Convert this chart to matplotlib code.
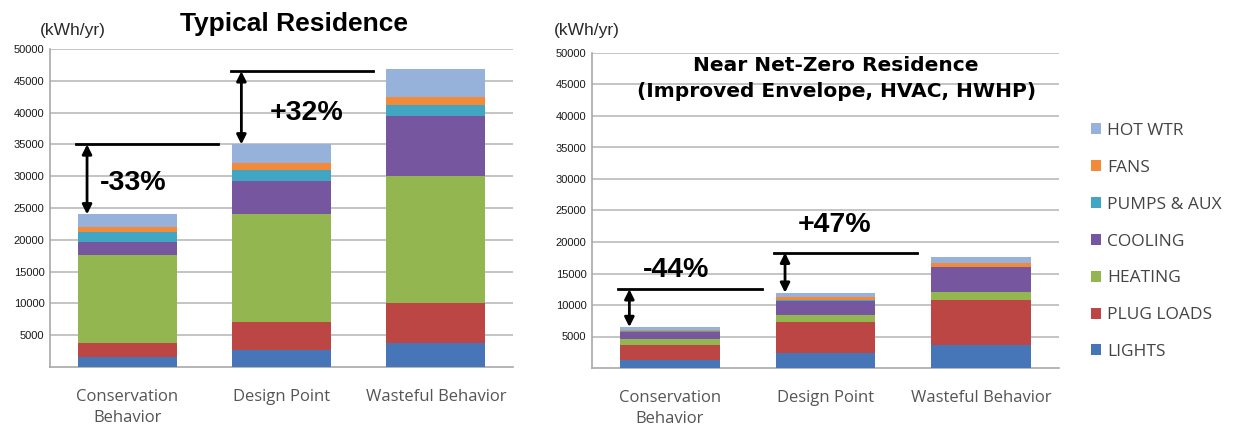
import numpy as np
import matplotlib
matplotlib.use('Agg')
import matplotlib.pyplot as plt
from matplotlib.patches import Patch

categories = ['Conservation\nBehavior', 'Design Point', 'Wasteful Behavior']
end_uses = ['LIGHTS', 'PLUG LOADS', 'HEATING', 'COOLING', 'PUMPS & AUX', 'FANS', 'HOT WTR']
colors = ['#4676B8', '#BC4644', '#94B650', '#7756A0', '#40A6C4', '#F28A3A', '#97B2DA']

# kWh/yr per end use, in the order of end_uses
typical_conservation = [1500, 2200, 13900, 2100, 1500, 800, 2000]
typical_design = [2700, 4300, 17100, 5200, 1600, 1100, 3000]
typical_wasteful = [3700, 6400, 19900, 9500, 1700, 1300, 4300]

nzr_conservation = [1200, 2450, 950, 1100, 150, 250, 400]
nzr_design = [2450, 4900, 1050, 2300, 150, 350, 750]
nzr_wasteful = [3650, 7150, 1300, 3900, 100, 500, 1000]

typical_pct = ['-33%', '+32%']
nzr_pct = ['-44%', '+47%']

yticks = [5000, 10000, 15000, 20000, 25000, 30000, 35000, 40000, 45000, 50000]

plt.rcParams['font.family'] = ['Liberation Sans', 'DejaVu Sans']

fig = plt.figure(figsize=(12.33, 4.32), dpi=100)
ax1 = fig.add_axes([50 / 1233, 65 / 432, 463 / 1233, 318 / 432])
ax2 = fig.add_axes([592 / 1233, 64 / 432, 467 / 1233, 315 / 432])


def stacked(ax, rows):
    data = np.array(rows)
    x = np.arange(len(categories))
    bottom = np.zeros(len(categories))
    for i, name in enumerate(end_uses):
        ax.bar(x, data[:, i], 0.64, bottom=bottom, color=colors[i], label=name, zorder=3)
        bottom += data[:, i]
    ax.set_xlim(-0.5, 2.5)
    ax.set_ylim(0, 50000)
    ax.set_yticks(yticks)
    ax.set_yticklabels([str(t) for t in yticks], fontsize=8, color='#1a1a1a')
    ax.set_xticks(x)
    ax.set_xticklabels(categories, fontfamily='Open Sans', fontsize=12,
                       color='#555555', linespacing=1.4)
    ax.tick_params(axis='x', length=0, pad=16)
    ax.tick_params(axis='y', length=0, pad=4)
    ax.grid(axis='y', color='#C4C4C4', linewidth=1.4, zorder=0)
    for s in ['top', 'right']:
        ax.spines[s].set_visible(False)
    ax.spines['left'].set_color('#A8A8A8')
    ax.spines['bottom'].set_color('#A8A8A8')
    ax.spines['left'].set_linewidth(1.2)
    ax.spines['bottom'].set_linewidth(1.2)
    return bottom


def change_marks(ax, totals, labels, offsets, text_pos):
    # horizontal reference line at the higher bar, arrow down to the lower one
    for k in range(2):
        level = totals[k + 1] + offsets[k]
        ax.plot([k - 0.33, k + 0.59], [level, level], color='black', lw=2, zorder=5)
        ax.annotate('', xy=(k - 0.26, totals[k]), xytext=(k - 0.26, level),
                    arrowprops=dict(arrowstyle='<|-|>', color='black', lw=2,
                                    mutation_scale=14, shrinkA=0, shrinkB=0),
                    zorder=5)
        ax.text(k + text_pos[k][0], text_pos[k][1], labels[k], fontsize=20.5,
                fontweight='bold', ha='center', va='center', zorder=6)


t1 = stacked(ax1, [typical_conservation, typical_design, typical_wasteful])
change_marks(ax1, t1, typical_pct, [0, -300], [(0.04, 29000), (0.16, 40000)])

t2 = stacked(ax2, [nzr_conservation, nzr_design, nzr_wasteful])
change_marks(ax2, t2, nzr_pct, [550, 700], [(0.04, 15600), (0.06, 22700)])

fig.text(294 / 1233, 1 - 24 / 432, 'Typical Residence', fontsize=19, fontweight='bold',
         ha='center', va='center')
fig.text(73 / 1233, 1 - 31 / 432, '(kWh/yr)', fontsize=12.5, ha='center', va='center',
         color='#2a2a2a')
fig.text(587 / 1233, 1 - 31 / 432, '(kWh/yr)', fontsize=12.5, ha='center', va='center',
         color='#2a2a2a')
ax2.text(0.523, 0.99, 'Near Net-Zero Residence\n(Improved Envelope, HVAC, HWHP)',
         transform=ax2.transAxes, fontfamily='DejaVu Sans', fontsize=14.5,
         fontweight='bold', ha='center', va='top', linespacing=1.45)

handles = [Patch(facecolor=colors[i], label=end_uses[i]) for i in range(len(end_uses))][::-1]
fig.legend(handles=handles, loc='upper left', bbox_to_anchor=(1091 / 1233, 1 - 123 / 432),
           frameon=False, prop={'family': 'Open Sans', 'size': 12.5},
           labelcolor='#444444', handlelength=0.6, handleheight=0.6,
           handletextpad=0.35, labelspacing=1.2, borderaxespad=0, borderpad=0)

fig.savefig('out.png', dpi=100)
